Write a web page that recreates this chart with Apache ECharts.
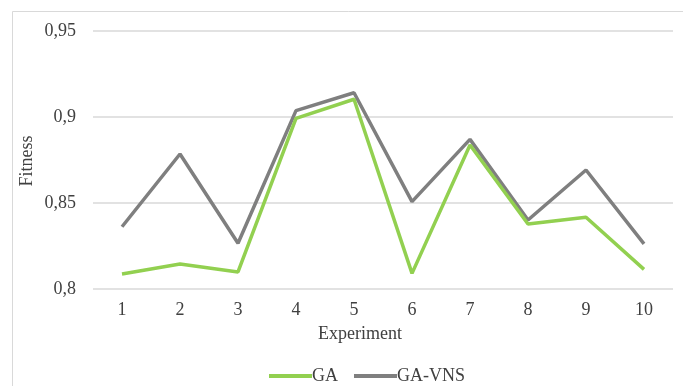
<!DOCTYPE html>
<html>
<head>
<meta charset="utf-8">
<script src="https://cdn.jsdelivr.net/npm/echarts@6/dist/echarts.min.js"></script>
<style>
  html, body { margin: 0; padding: 0; background: #ffffff; }
  #chart { width: 683px; height: 386px; }
</style>
</head>
<body>
<div id="chart"></div>
<script>
// Experiment numbers along the x axis
const experiments = ['1', '2', '3', '4', '5', '6', '7', '8', '9', '10'];
// Fitness per experiment
const gaFitness    = [0.8087, 0.8145, 0.8099, 0.8992, 0.9103, 0.8091, 0.8837, 0.8378, 0.8417, 0.8114];
const gaVnsFitness = [0.8362, 0.8785, 0.8266, 0.9037, 0.9141, 0.8508, 0.8870, 0.8401, 0.8692, 0.8262];
// Y axis range and step
const yMin = 0.8, yMax = 0.95, yStep = 0.05;

const FONT = '"Liberation Serif", "Times New Roman", serif';
const TEXT = '#404040';

const chart = echarts.init(document.getElementById('chart'), null, { renderer: 'canvas' });

chart.setOption({
  animation: false,
  backgroundColor: '#ffffff',
  textStyle: { fontFamily: FONT },
  grid: { left: 93, right: 10, top: 31, bottom: 97, containLabel: false },
  legend: {
    data: ['GA', 'GA-VNS'],
    left: 264,
    top: 362,
    icon: 'rect',
    itemWidth: 43,
    itemHeight: 4,
    itemGap: 16,
    textStyle: { fontFamily: FONT, fontSize: 18, color: TEXT, padding: [0, 0, 0, -5] }
  },
  xAxis: {
    type: 'category',
    data: experiments,
    boundaryGap: true,
    axisLine: { show: false },
    axisTick: { show: false },
    axisLabel: { fontFamily: FONT, fontSize: 18, color: TEXT, margin: 12 }
  },
  yAxis: {
    type: 'value',
    min: yMin,
    max: yMax,
    interval: yStep,
    axisLine: { show: false },
    axisTick: { show: false },
    axisLabel: {
      fontFamily: FONT, fontSize: 18, color: TEXT, margin: 17,
      formatter: v => String(parseFloat(v.toFixed(2))).replace('.', ',')
    },
    splitLine: { lineStyle: { color: '#d9d9d9', width: 1.5 } }
  },
  graphic: [
    {
      type: 'rect',
      shape: { x: 12.5, y: 11.5, width: 700, height: 400 },
      style: { fill: 'none', stroke: '#d9d9d9', lineWidth: 1 },
      silent: true
    },
    {
      type: 'text',
      x: 360, y: 334,
      style: { text: 'Experiment', font: '18px ' + FONT, fill: TEXT, textAlign: 'center', textVerticalAlign: 'middle' }
    },
    {
      type: 'text',
      x: 27, y: 161, rotation: Math.PI / 2,
      style: { text: 'Fitness', font: '18px ' + FONT, fill: TEXT, textAlign: 'center', textVerticalAlign: 'middle' }
    }
  ],
  series: [
    {
      name: 'GA',
      type: 'line',
      data: gaFitness,
      symbol: 'none',
      lineStyle: { color: '#92D050', width: 3.5 },
      itemStyle: { color: '#92D050' },
      z: 3
    },
    {
      name: 'GA-VNS',
      type: 'line',
      data: gaVnsFitness,
      symbol: 'none',
      lineStyle: { color: '#7F7F7F', width: 3.5 },
      itemStyle: { color: '#7F7F7F' },
      z: 2
    }
  ]
});
</script>
</body>
</html>
